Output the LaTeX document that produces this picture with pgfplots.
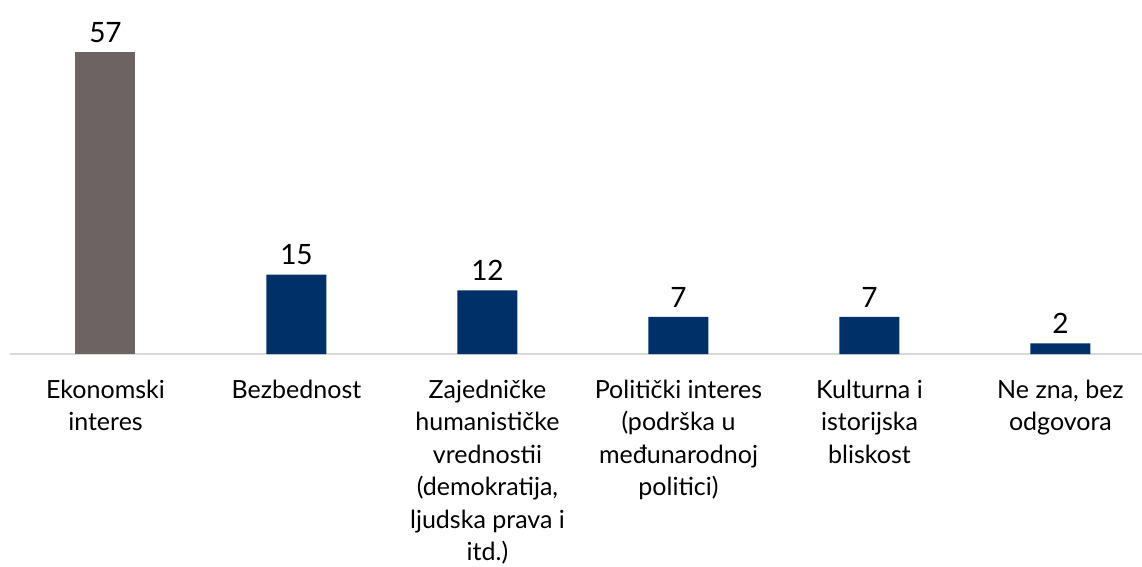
\documentclass[border=0pt]{standalone}
\usepackage{fontspec}
\setmainfont{Lato}
\usepackage{pgfplots}
\pgfplotsset{compat=1.18}
\definecolor{navy}{HTML}{003068}
\definecolor{greyb}{HTML}{6B6462}
\definecolor{axl}{HTML}{D9D9D9}
\begin{document}
\begin{tikzpicture}
\path[use as bounding box] (-10pt,-212pt) rectangle (1132pt,354pt);
\begin{axis}[
  at={(0,0)}, anchor=south west,
  scale only axis, width=1146pt, height=354pt,
  xmin=-0.5, xmax=5.5, ymin=0, ymax=66.8,
  axis x line=bottom, axis y line=none,
  axis line style={axl, line width=1.5pt, -},
  ybar, bar width=60pt, bar shift=0pt,
  xtick={0,1,2,3,4,5}, xtick style={draw=none},
  xticklabels={{Ekonomski\\interes},{Bezbednost},{Zajedničke\\humanističke\\vrednostii\\(demokratija,\\ljudska prava i\\itd.)},{Politički interes\\(podrška u\\međunarodnoj\\politici)},{Kulturna i\\istorijska\\bliskost},{Ne zna, bez\\odgovora}},
  xticklabel style={align=center, font=\fontsize{25}{32.5}\selectfont, anchor=north, yshift=-18pt},
  /pgf/number format/assume math mode=true,
  nodes near coords,
  every node near coord/.append style={font=\fontsize{28}{30}\selectfont, black, yshift=6pt},
  clip=false,
]
\addplot[fill=greyb, draw=none] coordinates {(0,57)};
\addplot[fill=navy, draw=none] coordinates {(1,15) (2,12) (3,7) (4,7) (5,2)};
\end{axis}
\end{tikzpicture}
\end{document}
